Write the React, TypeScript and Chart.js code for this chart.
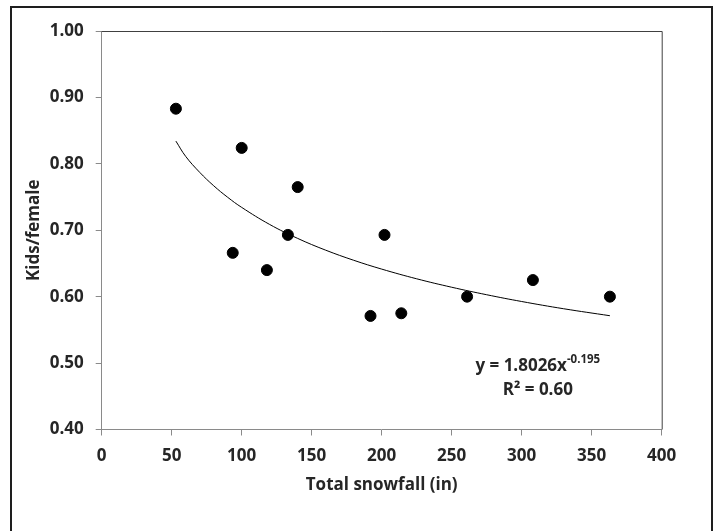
import React, { useEffect, useRef } from "react";
import { Chart, registerables } from "chart.js";

Chart.register(...registerables);

// Observed data: total snowfall (in) vs kids per female
const snowfall = [53, 93.6, 100, 118, 133, 140, 192, 202, 214, 261, 308, 363];
const kidsPerFemale = [0.883, 0.666, 0.824, 0.64, 0.693, 0.765, 0.571, 0.693, 0.575, 0.6, 0.625, 0.6];

// Power trendline y = 1.8026 x^-0.195, values read at these snowfall levels
const trendX = [53, 60, 70, 80, 90, 100, 120, 140, 160, 180, 200, 225, 250, 275, 300, 330, 363];
const trendY = [0.8342, 0.8112, 0.7872, 0.767, 0.7496, 0.7344, 0.7087, 0.6877, 0.67, 0.6548, 0.6415, 0.6269, 0.6142, 0.6029, 0.5927, 0.5818, 0.5713];

const xTicks = [0, 50, 100, 150, 200, 250, 300, 350, 400];
const yTicks = [0.4, 0.5, 0.6, 0.7, 0.8, 0.9, 1.0];

const equationMain = "y = 1.8026x";
const equationExp = "-0.195";
const rSquared = "R² = 0.60";

const FONT = "'Open Sans', 'Liberation Sans', sans-serif";
const TEXT = "#262626";
const AXIS = "#8a8a8a";
const FS = 17;

const W = 699;
const H = 523;

export default function App() {
  const ref = useRef<HTMLCanvasElement | null>(null);

  useEffect(() => {
    if (!ref.current) return;

    const framePlugin = {
      id: "frame",
      beforeDatasetsDraw(chart: any) {
        const { ctx, chartArea } = chart;
        ctx.save();
        ctx.strokeStyle = "#404040";
        ctx.lineWidth = 1;
        ctx.beginPath();
        ctx.moveTo(chartArea.left, chartArea.top + 0.5);
        ctx.lineTo(chartArea.right + 0.5, chartArea.top + 0.5);
        ctx.lineTo(chartArea.right + 0.5, chartArea.bottom);
        ctx.stroke();
        ctx.restore();
      },
      afterDraw(chart: any) {
        const { ctx, scales } = chart;
        const cx = scales.x.getPixelForValue(311.5);
        const y1 = scales.y.getPixelForValue(0.496);
        const y2 = scales.y.getPixelForValue(0.459);
        ctx.save();
        ctx.fillStyle = TEXT;
        ctx.textBaseline = "middle";
        ctx.font = `bold ${FS}px ${FONT}`;
        const wMain = ctx.measureText(equationMain).width;
        ctx.font = `bold 11.5px ${FONT}`;
        const wExp = ctx.measureText(equationExp).width;
        const start = cx - (wMain + wExp) / 2;
        ctx.textAlign = "left";
        ctx.font = `bold ${FS}px ${FONT}`;
        ctx.fillText(equationMain, start, y1);
        ctx.font = `bold 11.5px ${FONT}`;
        ctx.fillText(equationExp, start + wMain, y1 - 6);
        ctx.font = `bold ${FS}px ${FONT}`;
        ctx.textAlign = "center";
        ctx.fillText(rSquared, cx, y2);
        ctx.restore();
      },
    };

    const chart = new Chart(ref.current, {
      type: "scatter",
      data: {
        datasets: [
          {
            label: "Kids/female",
            data: snowfall.map((x, i) => ({ x, y: kidsPerFemale[i] })),
            backgroundColor: "#000",
            borderColor: "#000",
            borderWidth: 1,
            pointRadius: 5.5,
            pointHoverRadius: 5.5,
            order: 0,
          },
          {
            label: "Trend",
            data: trendX.map((x, i) => ({ x, y: trendY[i] })),
            showLine: true,
            borderColor: "#000",
            borderWidth: 1,
            pointRadius: 0,
            tension: 0.4,
            fill: false,
            order: 1,
          },
        ],
      },
      options: {
        responsive: false,
        animation: false,
        devicePixelRatio: 1,
        layout: { padding: { top: 23, right: 49.3, left: 0, bottom: 0 } },
        plugins: { legend: { display: false }, tooltip: { enabled: false } },
        scales: {
          x: {
            type: "linear",
            min: 0,
            max: 400,
            afterBuildTicks: (s: any) => {
              s.ticks = xTicks.map((v) => ({ value: v }));
            },
            afterFit: (s: any) => {
              s.height = H - 421.5;
            },
            grid: { drawOnChartArea: false, drawTicks: true, tickLength: 6, color: AXIS },
            border: { display: true, color: AXIS, width: 1 },
            ticks: {
              color: TEXT,
              font: { family: FONT, size: FS, weight: "bold" },
              padding: 10,
              maxRotation: 0,
              callback: (v: any) => String(v),
            },
            title: {
              display: true,
              text: "Total snowfall (in)",
              color: TEXT,
              font: { family: FONT, size: FS, weight: "bold" },
              padding: { top: 0, bottom: 36 },
            },
          },
          y: {
            type: "linear",
            min: 0.4,
            max: 1.0,
            afterBuildTicks: (s: any) => {
              s.ticks = yTicks.map((v) => ({ value: v }));
            },
            afterFit: (s: any) => {
              s.width = 89.7;
            },
            grid: { drawOnChartArea: false, drawTicks: true, tickLength: 6, color: AXIS },
            border: { display: true, color: AXIS, width: 1 },
            ticks: {
              color: TEXT,
              font: { family: FONT, size: FS, weight: "bold" },
              padding: 12,
              callback: (v: any) => Number(v).toFixed(2),
            },
            title: {
              display: true,
              text: "Kids/female",
              color: TEXT,
              font: { family: FONT, size: FS, weight: "bold" },
              padding: { top: 12, bottom: 0 },
            },
          },
        },
      },
      plugins: [framePlugin],
    });

    return () => chart.destroy();
  }, []);

  return (
    <div
      style={{
        position: "fixed",
        left: 10,
        top: 6,
        width: 703,
        height: 540,
        boxSizing: "border-box",
        border: "2px solid #1e1e1e",
        background: "#fff",
      }}
    >
      <canvas ref={ref} width={W} height={H} style={{ display: "block", width: W, height: H }} />
    </div>
  );
}
